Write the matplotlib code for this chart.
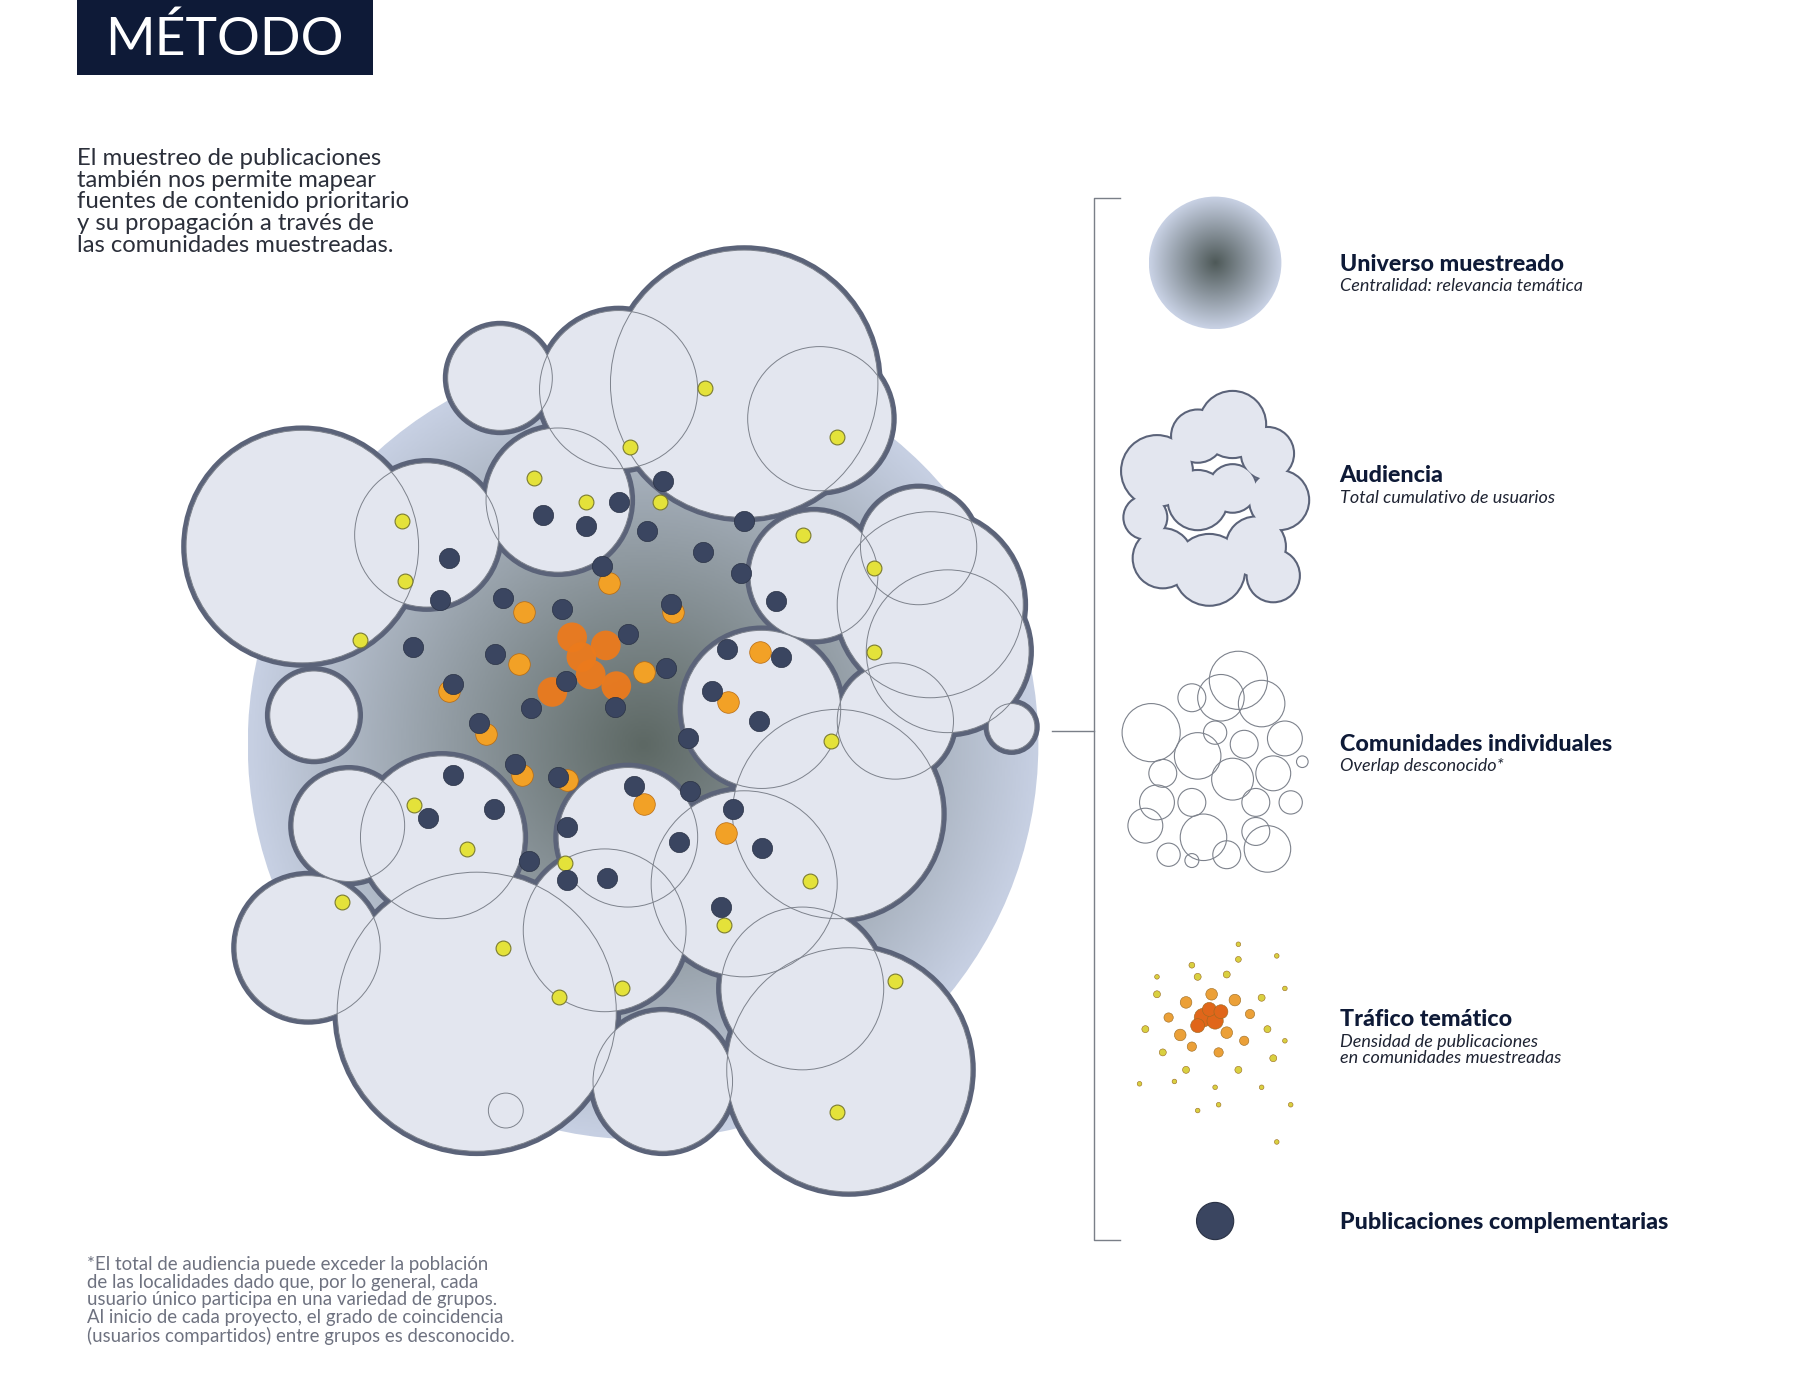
import numpy as np
import matplotlib
matplotlib.use("Agg")
import matplotlib.pyplot as plt
from matplotlib.patches import Circle, Rectangle
from matplotlib.colors import LinearSegmentedColormap

plt.rcParams['font.family'] = ['Lato', 'DejaVu Sans']

# ---------------- data ----------------
communities = [  # (x, y, r)
    (640, 330, 115), (532, 335, 68), (705, 360, 62), (430, 325, 45), (260, 470, 100),
    (367, 460, 62), (480, 430, 62), (800, 520, 80), (815, 560, 70), (870, 625, 20),
    (270, 615, 38), (300, 710, 48), (265, 815, 62), (410, 870, 120), (520, 800, 70),
    (570, 930, 60), (435, 955, 15), (730, 920, 105), (690, 850, 70), (720, 700, 90),
    (655, 610, 68), (700, 495, 55), (640, 760, 80), (380, 720, 70), (770, 620, 50),
    (790, 470, 50), (540, 720, 60),
]
yellow_pts = [(606, 334), (720, 376), (542, 384), (459, 411), (346, 448), (691, 460), (752, 488),
              (348, 500), (310, 550), (752, 561), (715, 637), (356, 692), (402, 730), (294, 776),
              (697, 758), (433, 815), (481, 857), (535, 850), (770, 844), (720, 956), (568, 432),
              (504, 432), (623, 795), (486, 742)]
orange_pts = [(445, 520), (380, 588), (648, 555), (620, 598), (482, 665), (548, 685), (618, 710),
              (518, 495), (573, 520), (440, 565), (548, 572), (412, 625), (443, 660)]
core_pts = [(492, 548), (521, 555), (508, 580), (475, 595), (530, 590), (500, 565)]
dark_pts = [(570, 414), (532, 432), (467, 443), (504, 452), (556, 457), (640, 448), (386, 480),
            (605, 475), (637, 493), (518, 487), (378, 516), (433, 514), (483, 524), (577, 519),
            (667, 517), (540, 545), (355, 556), (426, 562), (625, 558), (672, 565), (390, 588),
            (573, 574), (487, 586), (612, 594), (457, 609), (529, 608), (412, 622), (653, 620),
            (592, 635), (443, 657), (390, 666), (480, 668), (545, 676), (593, 680), (630, 696),
            (368, 703), (425, 696), (488, 711), (584, 724), (655, 729), (455, 740), (488, 757),
            (522, 755), (620, 780)]

leg_blob = [(995, 405, 30), (1030, 375, 22), (1060, 365, 28), (1090, 390, 22), (1100, 430, 25),
            (1080, 470, 25), (1095, 495, 22), (1040, 490, 30), (1000, 480, 25), (985, 445, 18),
            (1030, 430, 25), (1060, 420, 20)]
leg_comm = [(990, 630, 25), (1025, 600, 12), (1050, 600, 20), (1085, 605, 20), (1105, 635, 15),
            (1070, 640, 12), (1030, 650, 20), (1000, 665, 12), (1060, 670, 18), (1095, 665, 15),
            (995, 690, 15), (1025, 690, 12), (1080, 690, 12), (1110, 690, 10), (985, 710, 15),
            (1035, 720, 20), (1080, 715, 12), (1090, 730, 20), (1055, 735, 12), (1005, 735, 10),
            (1025, 740, 6), (1065, 585, 25), (1045, 630, 10), (1120, 655, 5)]
traffic_pts = [(1035, 875, 8, 0), (1045, 878, 7, 0), (1040, 868, 6, 0), (1030, 882, 6, 0), (1050, 870, 6, 0),
               (1020, 862, 5, 1), (1055, 888, 5, 1), (1015, 890, 5, 1), (1062, 860, 5, 1), (1042, 855, 5, 1),
               (1025, 900, 4, 1), (1075, 872, 4, 1), (1005, 875, 4, 1), (1048, 905, 4, 1), (1070, 895, 4, 1),
               (1030, 840, 3, 2), (1055, 838, 3, 2), (1085, 858, 3, 2), (1000, 905, 3, 2), (1090, 885, 3, 2),
               (995, 855, 3, 2), (1020, 920, 3, 2), (1065, 920, 3, 2), (1095, 910, 3, 2), (985, 885, 3, 2),
               (1025, 830, 2.5, 2), (1065, 825, 2.5, 2), (1098, 822, 2, 2), (995, 840, 2, 2), (1105, 850, 2, 2),
               (1105, 895, 2, 2), (980, 932, 2, 2), (1010, 930, 2, 2), (1045, 935, 2, 2), (1085, 935, 2, 2),
               (1110, 950, 2, 2), (1030, 955, 2, 2), (1065, 812, 2, 2), (1048, 950, 2, 2), (1098, 982, 2, 2)]

legend_titles = ["Universo muestreado", "Audiencia", "Comunidades individuales", "Tráfico temático",
                 "Publicaciones complementarias"]
legend_subs = ["Centralidad: relevancia temática", "Total cumulativo de usuarios", "Overlap desconocido*",
               "Densidad de publicaciones\nen comunidades muestreadas", ""]
legend_y = [227, 409, 640, 877, 1051]

W, H = 1548, 1198.7
fig = plt.figure(figsize=(18, 13.94), dpi=100)
ax = fig.add_axes([0, 0, 1, 1])
ax.set_xlim(0, W); ax.set_ylim(H, 0); ax.axis('off')
fig.patch.set_facecolor('white')
S = 0.837  # display px -> pt

def radial(ax, cx, cy, r, c0, c1, z):
    n = 300
    yy, xx = np.mgrid[-1:1:n*1j, -1:1:n*1j]
    d = np.clip(np.sqrt(xx**2 + yy**2), 0, 1)
    cmap = LinearSegmentedColormap.from_list('g', [c0, c1])
    im = ax.imshow(d, cmap=cmap, extent=(cx - r, cx + r, cy + r, cy - r), zorder=z, vmin=0, vmax=1)
    cp = Circle((cx, cy), r, transform=ax.transData, facecolor='none', edgecolor='none')
    ax.add_patch(cp)
    im.set_clip_path(cp)

# universe gradient
radial(ax, 553, 640, 340, '#5d6864', '#c7d0e3', 1)

# blob union
for x, y, r in communities:
    ax.add_patch(Circle((x, y), r, facecolor='#5b6379', edgecolor='#5b6379', lw=7, zorder=2))
for x, y, r in communities:
    ax.add_patch(Circle((x, y), r, facecolor='#e3e6ef', edgecolor='none', zorder=3))
for x, y, r in communities:
    ax.add_patch(Circle((x, y), r, facecolor='none', edgecolor='#7d828c', lw=0.7, zorder=4))

ax.scatter(*zip(*yellow_pts), s=(11 * S * 1.16) ** 2 / 1.0, c='#e4e23a', edgecolors='#7b7b30', lw=0.8, zorder=5)
ox = [p[0] + 6 for p in orange_pts]; oy = [p[1] + 6 for p in orange_pts]
ax.scatter(ox, oy, s=(16 * S * 1.16) ** 2, c='#f2a126', edgecolors='#b86a10', lw=0.5, zorder=5)
ax.scatter(*zip(*core_pts), s=(22 * S * 1.16) ** 2, c='#ec7a1c', edgecolors='none', zorder=5, alpha=0.95)
ax.scatter(*zip(*dark_pts), s=(15 * S * 1.16) ** 2, c='#3a4560', edgecolors='#2a3245', lw=0.5, zorder=6)

# title box
ax.add_patch(Rectangle((66, 0), 255, 64, facecolor='#0e1a37', edgecolor='none', zorder=7))
ax.text(193, 34, "MÉTODO", color='white', fontsize=46 * S, ha='center', va='center', zorder=8)

ax.text(66, 127, "El muestreo de publicaciones\ntambién nos permite mapear\nfuentes de contenido prioritario\n"
        "y su propagación a través de\nlas comunidades muestreadas.", fontsize=20.5 * S, color='#2b2f3a',
        va='top', ha='left', linespacing=1.05)
ax.text(75, 1080, "*El total de audiencia puede exceder la población\nde las localidades dado que, por lo general, cada\n"
        "usuario único participa en una variedad de grupos.\nAl inicio de cada proyecto, el grado de coincidencia\n"
        "(usuarios compartidos) entre grupos es desconocido.", fontsize=16 * S, color='#6e7280',
        va='top', ha='left', linespacing=1.05)

# bracket
ax.plot([963, 941, 941, 963], [170, 170, 1066, 1066], color='#7a7f88', lw=1)
ax.plot([905, 941], [629, 629], color='#7a7f88', lw=1)

# legend icons
radial(ax, 1045, 226, 57, '#4e5958', '#c9d2e5', 2)
for x, y, r in leg_blob:
    ax.add_patch(Circle((x, y), r, facecolor='#5b6379', edgecolor='#5b6379', lw=3, zorder=2))
for x, y, r in leg_blob:
    ax.add_patch(Circle((x, y), r, facecolor='#e3e6ef', edgecolor='none', zorder=3))
for x, y, r in leg_comm:
    ax.add_patch(Circle((x, y), r, facecolor='none', edgecolor='#7d828c', lw=0.8, zorder=3))
tcol = ['#e0661a', '#eba038', '#d9d040']
for x, y, r, c in traffic_pts:
    ax.add_patch(Circle((x, y), r, facecolor=tcol[c], edgecolor='#9a6a20', lw=0.4, zorder=4))
ax.add_patch(Circle((1045, 1050), 16, facecolor='#3a4560', edgecolor='#2a3245', lw=0.8, zorder=4))

for t, s, y in zip(legend_titles, legend_subs, legend_y):
    ax.text(1152, y, t, fontsize=20 * S, fontweight='black', color='#0e1a37', va='center', ha='left')
    if s:
        ax.text(1152, y + 12, s, fontsize=15.5 * S, style='italic', color='#1f2433', va='top', ha='left',
                linespacing=1.05)

fig.savefig('out.png', dpi=100)
